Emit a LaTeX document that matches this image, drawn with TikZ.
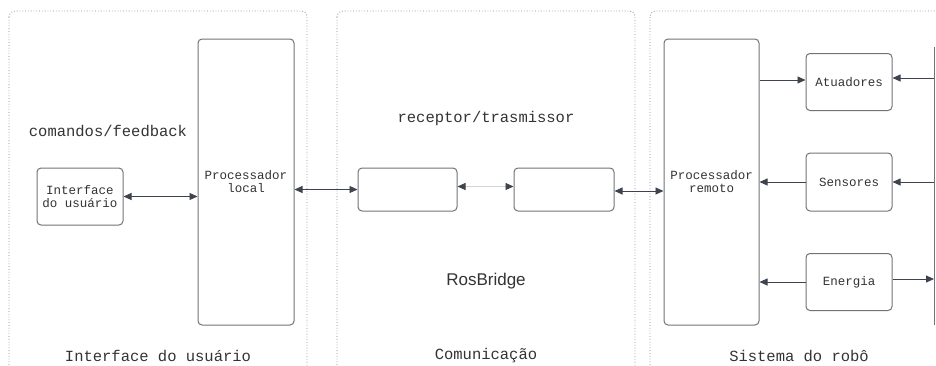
\documentclass[tikz,border=0pt]{standalone}
\usepackage{fontspec}
\setmonofont{Liberation Mono}
\setsansfont{Liberation Sans}
\usetikzlibrary{shapes, arrows.meta, positioning}
\usepackage{xcolor}
\definecolor{boxgray}{HTML}{707378}
\definecolor{linkgray}{HTML}{3E444E}
\definecolor{txtgray}{HTML}{333333}
\definecolor{panelgray}{HTML}{8C8C8C}

\begin{document}
\begin{tikzpicture}[x=1pt, y=-1pt, node distance=100pt,
    panel/.style={draw=panelgray, line width=0.8pt, dotted, rounded corners=6pt},
    block/.style={rectangle, draw=boxgray, line width=1pt, rounded corners=4pt, inner sep=0pt,
        align=center, text=txtgray, font=\ttfamily\fontsize{12.5}{13}\selectfont},
    title/.style={text=txtgray, font=\ttfamily\fontsize{15.5}{18}\selectfont},
    link/.style={draw=linkgray, line width=0.9pt, -{Triangle[length=8pt,width=7pt]}},
    dual/.style={draw=linkgray, line width=0.9pt, {Triangle[length=8pt,width=7pt]}-{Triangle[length=8pt,width=7pt]}}]
    \useasboundingbox (0,0) rectangle (936,365);

    % panels
    \draw[panel] (9,11) rectangle (307,385);
    \draw[panel] (337,11) rectangle (635,385);
    \draw[panel] (650,11) rectangle (960,385);

    \node (ttl1) [title] at (158,356) {Interface do usuário};
    \node (ttl2) [title] at (486,356) {Comunicação};
    \node (ttl3) [title] at (799,356) {Sistema do robô};

    \node (cmd) [title] at (108,131) {comandos/feedback};
    \node (rxtx) [title] at (486,118) {receptor/trasmissor};
    \node (ros) [text=txtgray, font=\sffamily\fontsize{17}{20}\selectfont] at (486,281) {RosBridge};

    % user side
    \node (iface) [block, minimum width=86pt, minimum height=57pt] at (80,196.5) {Interface\\do usuário};
    \node (plocal) [block, minimum width=96pt, minimum height=286pt] at (246,182) {Processador\\local};

    % bridge
    \node (rxa) [block, minimum width=99pt, minimum height=43pt] at (407.5,189.5) {};
    \node (rxb) [block, minimum width=100pt, minimum height=43pt, right of=rxa, node distance=156.5pt] {};

    % robot side
    \node (premoto) [block, minimum width=95pt, minimum height=286pt] at (711.5,182) {Processador\\remoto};
    \node (sens) [block, minimum width=86pt, minimum height=58pt, right of=premoto, node distance=137.5pt] {Sensores};
    \node (atu) [block, minimum width=86pt, minimum height=57pt, above of=sens] {Atuadores};
    \node (ener) [block, minimum width=86pt, minimum height=57pt, below of=sens] {Energia};
    \coordinate (bustop) at (934,47);
    \coordinate (busbot) at (934,325);
    \draw [boxgray, line width=1pt] (bustop) -- (busbot);

    \draw [dual] (iface.east) -- (iface.east -| plocal.west);
    \draw [dual] (rxa.west -| plocal.east) -- (rxa.west);
    \draw [draw=boxgray!30, line width=0.9pt, {Triangle[length=8pt,width=7pt,color=linkgray]}-{Triangle[length=8pt,width=7pt,color=linkgray]}]
        ([yshift=3pt]rxa.east) -- ([yshift=3pt]rxb.west);
    \draw [dual] ([yshift=-1.5pt]rxb.east) -- ([yshift=-1.5pt]rxb.east -| premoto.west);

    \draw [link] ([yshift=2pt]atu.west -| premoto.east) -- ([yshift=2pt]atu.west);
    \draw [link] ([yshift=4pt]atu.east -| bustop) -- ([yshift=4pt]atu.east);
    \draw [link] (sens.west) -- (sens.west -| premoto.east);
    \draw [link] (sens.east -| bustop) -- (sens.east);
    \draw [link] (ener.west) -- (ener.west -| premoto.east);
    \draw [link] ([yshift=3pt]ener.east) -- ([yshift=3pt]ener.east -| bustop);
\end{tikzpicture}
\end{document}
